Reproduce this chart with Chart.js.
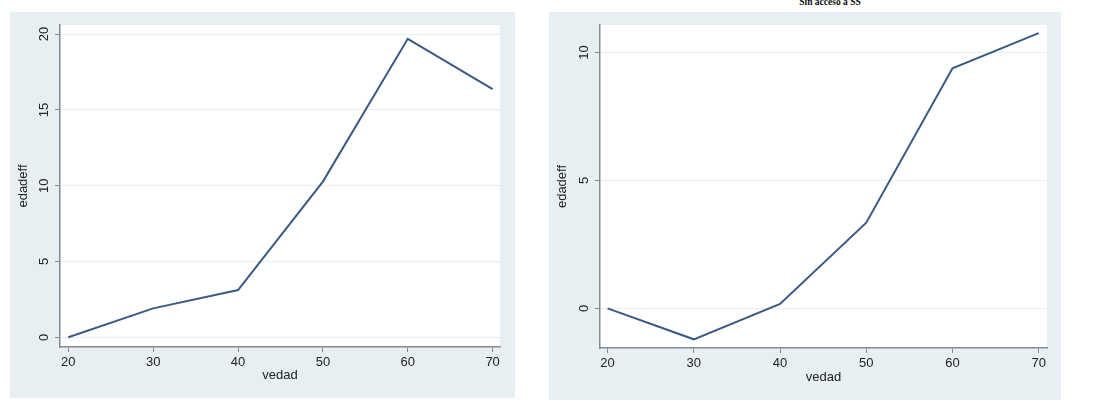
<!DOCTYPE html>
<html><head><meta charset="utf-8">
<script src="https://cdn.jsdelivr.net/npm/chart.js@4"></script>
<style>
html,body{margin:0;padding:0;background:#fff;width:1096px;height:414px;overflow:hidden}
.p{position:absolute}
canvas{display:block;background:#e8eff2}
#t{position:absolute;left:730px;width:200px;top:-3px;text-align:center;font:bold 9.5px "Liberation Serif";color:#111}
</style></head><body>
<div class="p" style="left:10px;top:12px"><canvas id="c1" width="505" height="386"></canvas></div>
<div class="p" style="left:549px;top:12px"><canvas id="c2" width="512" height="388"></canvas></div>
<div id="t">Sin acceso a SS</div>
<script>
const ages = [20, 30, 40, 50, 60, 70];
const edadeffAll = [0, 1.91, 3.12, 10.27, 19.69, 16.37];
const edadeffSinSS = [0, -1.21, 0.17, 3.35, 9.39, 10.76];
const xTicks = [20, 30, 40, 50, 60, 70];
const yTicksAll = [0, 5, 10, 15, 20];
const yTicksSinSS = [0, 5, 10];
const xTitle = 'vedad';
const yTitle = 'edadeff';

const FONT = 'Liberation Sans, Arial, sans-serif';
const AXIS = '#8a8a8a';
const GRID = '#e8eff2';
const LINE = '#3a5a85';
const TXT = '#222';

const plotBg = {
  id: 'plotBg',
  beforeDraw(chart) {
    const a = chart.chartArea, c = chart.ctx;
    c.save(); c.fillStyle = '#ffffff';
    c.fillRect(a.left, a.top, a.right - a.left, a.bottom - a.top);
    c.restore();
  }
};

function makeChart(id, ys, yTicks, o) {
  return new Chart(document.getElementById(id), {
    type: 'line',
    data: { datasets: [{
      data: ages.map((x, i) => ({ x: x, y: ys[i] })),
      borderColor: LINE, borderWidth: 2, pointRadius: 0, tension: 0, fill: false
    }]},
    options: {
      responsive: false, animation: false, devicePixelRatio: 1,
      layout: { padding: { left: 0, top: o.top, right: o.right, bottom: 0 } },
      plugins: { legend: { display: false }, tooltip: { enabled: false }, title: { display: false } },
      scales: {
        x: {
          type: 'linear', min: o.xmin, max: o.xmax,
          afterBuildTicks: s => { s.ticks = xTicks.map(v => ({ value: v })); },
          afterFit: s => { s.height = o.xh; },
          grid: { drawOnChartArea: false, drawTicks: true, tickLength: 5, tickColor: AXIS, tickWidth: 1 },
          border: { display: true, color: AXIS, width: 1.5 },
          ticks: { color: TXT, font: { family: FONT, size: 13 }, padding: 3, maxRotation: 0, autoSkip: false },
          title: { display: true, text: xTitle, color: TXT, font: { family: FONT, size: 13 }, padding: { top: 0, bottom: o.xtp } }
        },
        y: {
          type: 'linear', min: o.ymin, max: o.ymax,
          afterBuildTicks: s => { s.ticks = yTicks.map(v => ({ value: v })); },
          afterFit: s => { s.width = o.yw; },
          grid: { color: GRID, lineWidth: 1, drawTicks: true, tickLength: 5, tickColor: AXIS, tickWidth: 1 },
          border: { display: true, color: AXIS, width: 1.5 },
          ticks: { color: TXT, font: { family: FONT, size: 13 }, padding: o.ypad, minRotation: 90, maxRotation: 90, crossAlign: 'center', autoSkip: false },
          title: { display: true, text: yTitle, color: TXT, font: { family: FONT, size: 13 }, padding: { top: 6, bottom: 0 } }
        }
      }
    },
    plugins: [plotBg]
  });
}

makeChart('c1', edadeffAll, yTicksAll, { xmin: 19.02, xmax: 70.87, ymin: -0.64, ymax: 20.6, top: 13, right: 15, xh: 51, yw: 50, xtp: 14.5, ypad: 3 });
makeChart('c2', edadeffSinSS, yTicksSinSS, { xmin: 19.12, xmax: 70.96, ymin: -1.55, ymax: 11.08, top: 13, right: 14, xh: 52, yw: 51, xtp: 15, ypad: 3 });
</script>
</body></html>
